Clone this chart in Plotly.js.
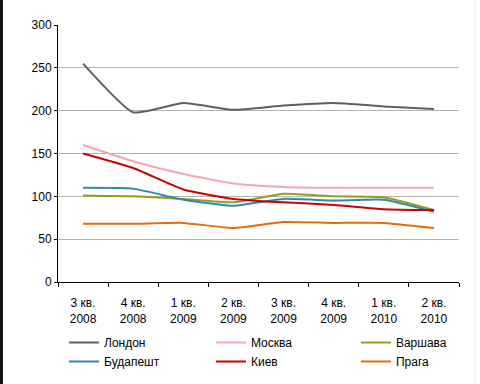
<!DOCTYPE html>
<html>
<head>
<meta charset="utf-8">
<script src="https://cdn.plot.ly/plotly-3.0.1.min.js"></script>
<style>html,body{margin:0;padding:0;background:#fff;}#chart{width:480px;height:384px;}</style>
</head>
<body>
<div id="chart"></div>
<script>
const categories = ["3 кв.<br>2008","4 кв.<br>2008","1 кв.<br>2009","2 кв.<br>2009","3 кв.<br>2009","4 кв.<br>2009","1 кв.<br>2010","2 кв.<br>2010"];
const seriesNames = ["Лондон","Москва","Варшава","Будапешт","Киев","Прага"];
const london   = [255, 198, 209, 201, 206, 209, 205, 202];
const moscow   = [160, 141, 126, 115, 111, 110, 110, 110];
const warsaw   = [101, 100, 97, 93, 103, 100, 99, 84];
const budapest = [110, 109, 96, 89, 97, 95, 96, 82];
const kiev     = [150, 133, 108, 97, 93, 90, 85, 84];
const prague   = [68, 68, 69, 63, 70, 69, 69, 63];
const colors = ["#5f5f5f","#f4a7b1","#999a1e","#2f8aa3","#cc0000","#e46c0a"];
const allSeries = [london, moscow, warsaw, budapest, kiev, prague];
const legendIds = ["legend","legend2","legend3","legend","legend2","legend3"];

const traces = allSeries.map((vals, i) => ({
  type: "scatter", mode: "lines",
  x: categories, y: vals, name: seriesNames[i], legend: legendIds[i],
  line: {color: colors[i], width: 2, shape: "spline", smoothing: 0.45}
}));

const legBase = {orientation: "v", xanchor: "left", y: -0.179, yanchor: "top",
  itemwidth: 30, font: {size: 12, color: "#000"}, bgcolor: "rgba(0,0,0,0)", tracegroupgap: 0};

const layout = {
  width: 480, height: 384,
  margin: {l: 58, r: 21, t: 25, b: 102, autoexpand: false},
  paper_bgcolor: "#fff", plot_bgcolor: "#fff",
  font: {family: "Arial, Liberation Sans, sans-serif", size: 12, color: "#000"},
  showlegend: true,
  legend: Object.assign({}, legBase, {x: 0.015}),
  legend2: Object.assign({}, legBase, {x: 0.3815}),
  legend3: Object.assign({}, legBase, {x: 0.743}),
  xaxis: {type: "category", range: [-0.5, 7.5], showline: true, linecolor: "#000", linewidth: 1,
          ticks: "outside", ticklen: 4, tickcolor: "#000", tickson: "boundaries",
          ticklabelstandoff: 10, automargin: false,
          showgrid: false, tickangle: 0, fixedrange: true},
  yaxis: {range: [0, 300], dtick: 50, showline: true, linecolor: "#000", linewidth: 1,
          ticks: "outside", ticklen: 3, tickcolor: "#000", automargin: false,
          gridcolor: "#b3b3b3", gridwidth: 1, zeroline: false, fixedrange: true},
  shapes: [
    {type: "line", xref: "paper", yref: "paper", x0: -0.141, x1: -0.141, y0: -0.5, y1: 1.2,
     line: {color: "#111", width: 3}},
    {type: "line", xref: "paper", yref: "paper", x0: 1.04, x1: 1.04, y0: -0.5, y1: 1.2,
     line: {color: "#ececec", width: 1}}
  ]
};
Plotly.newPlot("chart", traces, layout, {staticPlot: true, displayModeBar: false});
</script>
</body>
</html>
